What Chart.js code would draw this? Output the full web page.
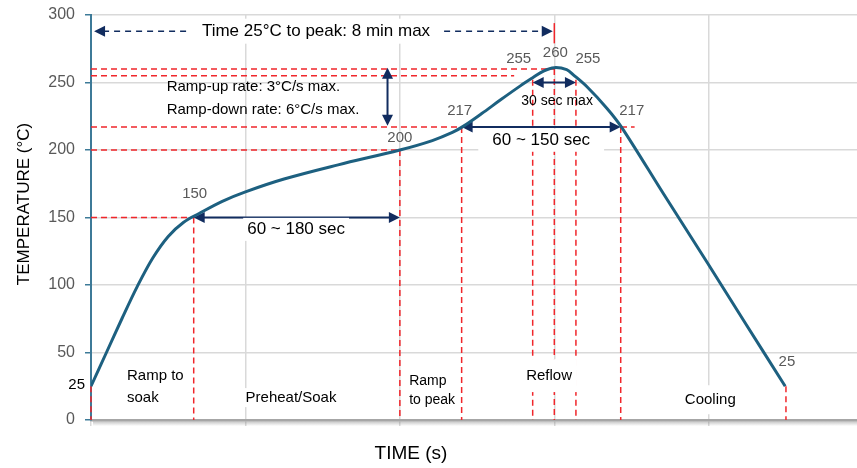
<!DOCTYPE html>
<html><head><meta charset="utf-8">
<script src="https://cdn.jsdelivr.net/npm/chart.js@4.4.1/dist/chart.umd.min.js"></script>
<style>html,body{margin:0;padding:0;background:#fff}#wrap{width:857px;height:468px;position:relative}</style>
</head><body><div id="wrap"><canvas id="c"></canvas></div>
<script>
// ---- data ----
const timeSec = [0, 10, 20, 30, 40, 50, 60, 70, 85, 100, 125, 160, 200, 221, 234, 241, 253, 265, 278, 286, 293, 300, 308, 312.5, 321, 334, 343.5, 371, 398.8, 423, 449.5];
const tempC   = [25, 50, 75, 99, 120, 136, 146.5, 153, 162, 169, 178.5, 189, 200, 207, 213, 217.5, 227, 237, 247.5, 253.5, 258.5, 261, 259.5, 255.5, 247, 231, 217, 167, 117, 73, 25];
const yTickValues = [0, 50, 100, 150, 200, 250, 300];
const xGridValues = [0, 100, 200, 300, 400];
const keyTime  = [0, 66.5, 200, 240, 286, 300, 314, 343, 450];
const keyTemp  = [25, 150, 200, 217, 255, 260, 255, 217, 25];
const keyLabel = ['25', '150', '200', '217', '255', '260', '255', '217', '25'];
const phaseNames = ['Ramp to\nsoak', 'Preheat/Soak', 'Ramp\nto peak', 'Reflow', 'Cooling'];
const noteTexts = ['Time 25°C to peak: 8 min max', 'Ramp-up rate: 3°C/s max.', 'Ramp-down rate: 6°C/s max.', '60 ~ 180 sec', '60 ~ 150 sec', '30 sec max'];
const axisTitles = ['TEMPERATURE (°C)', 'TIME (s)'];

const FONT = "'Liberation Sans', Arial, sans-serif";
const RED = '#F0262B', NAVY = '#112C5F', GRAY = '#595959';

function line(ctx, x1, y1, x2, y2, color, w, dash) {
  ctx.save(); ctx.strokeStyle = color; ctx.lineWidth = w; ctx.setLineDash(dash || []);
  ctx.beginPath(); ctx.moveTo(x1, y1); ctx.lineTo(x2, y2); ctx.stroke(); ctx.restore();
}
function head(ctx, x, y, ang, color) {
  const L = 11, W = 5.5;
  ctx.save(); ctx.fillStyle = color; ctx.translate(x, y); ctx.rotate(ang);
  ctx.beginPath(); ctx.moveTo(0, 0); ctx.lineTo(-L, -W); ctx.lineTo(-L, W); ctx.closePath(); ctx.fill(); ctx.restore();
}
function arrow(ctx, x1, y1, x2, y2, color, w, dash) {
  const ang = Math.atan2(y2 - y1, x2 - x1);
  const dx = Math.cos(ang) * 9, dy = Math.sin(ang) * 9;
  line(ctx, x1 + dx, y1 + dy, x2 - dx, y2 - dy, color, w, dash);
  head(ctx, x2, y2, ang, color); head(ctx, x1, y1, ang + Math.PI, color);
}
function txt(ctx, s, x, y, o) {
  ctx.save(); ctx.font = (o.size) + 'px ' + FONT; ctx.textAlign = o.align || 'center'; ctx.textBaseline = 'middle';
  if (o.bg) {
    const w = ctx.measureText(s).width;
    const left = o.align === 'left' ? x : (o.align === 'right' ? x - w : x - w / 2);
    ctx.fillStyle = '#fff';
    ctx.fillRect(left - o.bg[0], y - o.size / 2 - o.bg[1], w + 2 * o.bg[0], o.size + 2 * o.bg[1]);
  }
  ctx.fillStyle = o.color || '#000'; ctx.fillText(s, x, y); ctx.restore();
}

const annot = {
  id: 'annot',
  beforeDatasetsDraw(chart) {
    const ctx = chart.ctx, xs = chart.scales.x, ys = chart.scales.y;
    const X = v => xs.getPixelForValue(v), Y = v => ys.getPixelForValue(v);
    const y0 = Y(0), xL = X(0);
    const D = [6, 4];
    [[1, 66.5], [2, 200], [3, 352], [4, 274], [5, 300]].forEach(([i, xe]) => {
      line(ctx, xL, Y(keyTemp[i]), X(xe), Y(keyTemp[i]), RED, 1.5, D);
    });
    const vTop = [25, 150, 200, 217, 252, 260, 252, 217, 25];
    keyTime.forEach((t, i) => line(ctx, X(t), Y(vTop[i]), X(t), y0, RED, 1.5, D));
    line(ctx, X(300), Y(294), X(300), Y(279), RED, 1.5);
    arrow(ctx, X(2), Y(288), X(299), Y(288), NAVY, 1.5, [6, 5]);
    arrow(ctx, X(192), Y(261), X(192), Y(218), NAVY, 2);
    arrow(ctx, X(keyTime[1]), Y(150), X(keyTime[2]), Y(150), NAVY, 2);
    arrow(ctx, X(keyTime[3]), Y(217), X(keyTime[7]), Y(217), NAVY, 2);
    arrow(ctx, X(keyTime[4]), Y(250), X(keyTime[6]), Y(250), NAVY, 2);
    txt(ctx, noteTexts[0], X(145.7), Y(288), {size: 17, bg: [13, 4]});
    txt(ctx, noteTexts[1], X(49), Y(246.5), {size: 15, align: 'left'});
    txt(ctx, noteTexts[2], X(49), Y(230), {size: 15, align: 'left'});
    txt(ctx, noteTexts[3], X(132.8), Y(141.2), {size: 17, bg: [4, 3]});
    txt(ctx, noteTexts[4], X(291.5), Y(207.2), {size: 17, bg: [14, 3]});
    txt(ctx, noteTexts[5], X(301.8), Y(236.5), {size: 14});
    const p0 = phaseNames[0].split('\n'), p2 = phaseNames[2].split('\n');
    txt(ctx, p0[0], X(23.3), Y(32.9), {size: 15, align: 'left'});
    txt(ctx, p0[1], X(23.3), Y(16.6), {size: 15, align: 'left'});
    txt(ctx, phaseNames[1], X(129.5), Y(16.6), {size: 15, bg: [4, 2]});
    txt(ctx, p2[0], X(206), Y(29.1), {size: 14, align: 'left'});
    txt(ctx, p2[1], X(206), Y(15), {size: 14, align: 'left'});
    txt(ctx, phaseNames[3], X(296.6), Y(32.9), {size: 15, bg: [5, 9]});
    txt(ctx, phaseNames[4], X(401), Y(15), {size: 15, bg: [5, 7]});
    const off = [null, [1, -24], [0, -12], [-2, -16], [-14, -17], [1, -16], [12, -17], [11, -16], [1, -24]];
    keyLabel.forEach((s, i) => {
      if (!off[i]) return;
      txt(ctx, s, X(keyTime[i]) + off[i][0], Y(keyTemp[i]) + off[i][1], {size: 15, color: GRAY});
    });
    txt(ctx, keyLabel[0], xL - 6, Y(keyTemp[0]) - 1, {size: 15, align: 'right', color: '#000'});
  },
  afterDraw(chart) {
    const ctx = chart.ctx, a = chart.chartArea;
    const g = ctx.createLinearGradient(0, a.bottom + 1, 0, a.bottom + 6);
    g.addColorStop(0, 'rgba(120,120,120,0.45)'); g.addColorStop(1, 'rgba(120,120,120,0)');
    ctx.fillStyle = g; ctx.fillRect(a.left + 2, a.bottom + 1.5, a.right - a.left, 4.5);
    ctx.save(); ctx.translate(24, 204); ctx.rotate(-Math.PI / 2);
    txt(ctx, axisTitles[0], 0, 0, {size: 17}); ctx.restore();
    txt(ctx, axisTitles[1], 411, 454, {size: 19});
  }
};

new Chart(document.getElementById('c'), {
  type: 'line',
  data: { datasets: [{
    data: timeSec.map((t, i) => ({x: t, y: tempC[i]})),
    borderColor: '#1D6080', borderWidth: 3, pointRadius: 0,
    tension: 0.35, fill: false
  }]},
  options: {
    responsive: true, maintainAspectRatio: false, animation: false,
    layout: {padding: {top: 15, right: 0, bottom: 0, left: 0}},
    plugins: {legend: {display: false}, tooltip: {enabled: false}},
    scales: {
      x: {
        type: 'linear', min: 0, max: 496,
        afterBuildTicks: s => { s.ticks = xGridValues.map(v => ({value: v})); },
        afterFit: s => { s.height = 48; s.paddingLeft = 0; s.paddingRight = 0; },
        ticks: {display: false},
        grid: {color: '#D9D9D9', lineWidth: 1.5, tickLength: 6, tickColor: '#D9D9D9'},
        border: {color: '#A6A6A6', width: 2.5}
      },
      y: {
        min: 0, max: 300,
        afterBuildTicks: s => { s.ticks = yTickValues.map(v => ({value: v})); },
        afterFit: s => { s.width = 91; s.paddingTop = 0; s.paddingBottom = 0; },
        ticks: {color: GRAY, font: {family: FONT, size: 16}, padding: 10},
        grid: {color: '#D9D9D9', lineWidth: 1.5, tickLength: 6, tickColor: '#3D7A98'},
        border: {color: '#3D7A98', width: 2}
      }
    }
  },
  plugins: [annot]
});
</script>
</body></html>
